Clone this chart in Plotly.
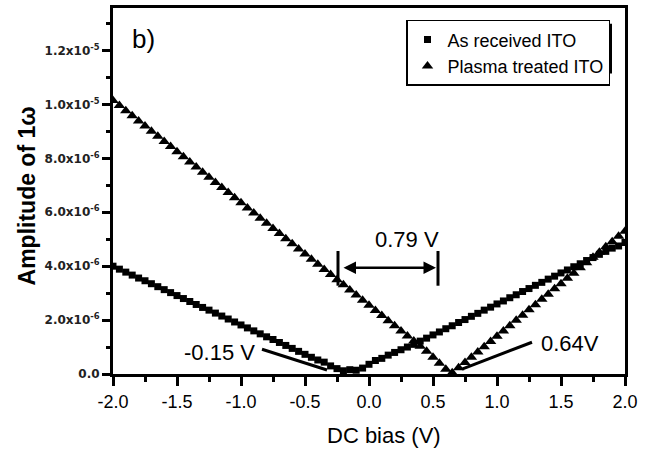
import plotly.graph_objects as go

# DC bias (V)
bias = [-2.00, -1.95, -1.90, -1.85, -1.80, -1.75, -1.70, -1.65, -1.60, -1.55,
        -1.50, -1.45, -1.40, -1.35, -1.30, -1.25, -1.20, -1.15, -1.10, -1.05,
        -1.00, -0.95, -0.90, -0.85, -0.80, -0.75, -0.70, -0.65, -0.60, -0.55,
        -0.50, -0.45, -0.40, -0.35, -0.30, -0.25, -0.20, -0.15, -0.10, -0.05,
        0.00, 0.05, 0.10, 0.15, 0.20, 0.25, 0.30, 0.35, 0.40, 0.45,
        0.50, 0.55, 0.60, 0.65, 0.70, 0.75, 0.80, 0.85, 0.90, 0.95,
        1.00, 1.05, 1.10, 1.15, 1.20, 1.25, 1.30, 1.35, 1.40, 1.45,
        1.50, 1.55, 1.60, 1.65, 1.70, 1.75, 1.80, 1.85, 1.90, 1.95, 2.00]

# Amplitude of 1w, in units of 1e-6
as_received = [4.00, 3.89, 3.78, 3.67, 3.56, 3.46, 3.35, 3.24, 3.13, 3.02,
               2.91, 2.80, 2.69, 2.58, 2.47, 2.37, 2.26, 2.15, 2.04, 1.93,
               1.82, 1.71, 1.60, 1.49, 1.38, 1.28, 1.17, 1.06, 0.95, 0.84,
               0.73, 0.62, 0.52, 0.44, 0.30, 0.20, 0.12, 0.16, 0.14, 0.22,
               0.36, 0.50, 0.58, 0.70, 0.80, 0.90, 1.00, 1.10, 1.22, 1.33,
               1.45, 1.56, 1.68, 1.79, 1.91, 2.02, 2.14, 2.25, 2.37, 2.48,
               2.60, 2.71, 2.83, 2.94, 3.06, 3.17, 3.29, 3.40, 3.52, 3.63,
               3.75, 3.86, 3.98, 4.09, 4.21, 4.32, 4.44, 4.55, 4.67, 4.75, 4.88]

plasma = [10.15, 9.96, 9.77, 9.58, 9.39, 9.20, 9.01, 8.82, 8.63, 8.44,
          8.25, 8.06, 7.87, 7.68, 7.49, 7.30, 7.11, 6.92, 6.73, 6.54,
          6.35, 6.16, 5.97, 5.78, 5.59, 5.40, 5.21, 5.02, 4.83, 4.64,
          4.45, 4.26, 4.07, 3.88, 3.69, 3.50, 3.31, 3.12, 2.93, 2.74,
          2.55, 2.36, 2.17, 1.98, 1.79, 1.60, 1.41, 1.22, 1.03, 0.84,
          0.62, 0.40, 0.18, 0.05, 0.23, 0.43, 0.62, 0.82, 1.01, 1.21,
          1.40, 1.60, 1.79, 1.99, 2.18, 2.38, 2.57, 2.77, 2.96, 3.16,
          3.35, 3.55, 3.74, 3.94, 4.13, 4.33, 4.52, 4.72, 4.91, 5.11, 5.30]

series_names = ["As received ITO", "Plasma treated ITO"]

x_ticks = [-2.0, -1.5, -1.0, -0.5, 0.0, 0.5, 1.0, 1.5, 2.0]
y_tickvals = [0.0, 2e-6, 4e-6, 6e-6, 8e-6, 1.0e-5, 1.2e-5]
y_ticktext = ["0.0", "2.0x10<sup>-6</sup>", "4.0x10<sup>-6</sup>", "6.0x10<sup>-6</sup>",
              "8.0x10<sup>-6</sup>", "1.0x10<sup>-5</sup>", "1.2x10<sup>-5</sup>"]

SCALE = 1e-6
Y_TOP = 13.58e-6

W, H = 656, 452
L, R, T, B = 113, 31, 5, 78
PW, PH = W - L - R, H - T - B


def px_x(p):
    return -2.0 + (p - L) / PW * 4.0


def px_y(p):
    return (T + PH - p) / PH * Y_TOP


def paper_x(p):
    return (p - L) / PW


def paper_y(p):
    return (T + PH - p) / PH


FONT = "Liberation Sans, Arial, sans-serif"

fig = go.Figure()
fig.add_trace(go.Scatter(
    x=bias, y=[v * SCALE for v in as_received], mode="markers", name=series_names[0],
    marker=dict(symbol="square", size=7, color="black", line=dict(width=0))))
fig.add_trace(go.Scatter(
    x=bias, y=[v * SCALE for v in plasma], mode="markers", name=series_names[1],
    marker=dict(symbol="triangle-up", size=10, color="black", line=dict(width=0))))

fig.update_layout(
    width=W, height=H, margin=dict(l=L, r=R, t=T, b=B),
    plot_bgcolor="white", paper_bgcolor="white",
    font=dict(family=FONT, color="black"),
    legend=dict(x=paper_x(406), y=paper_y(17), xanchor="left", yanchor="top",
                bgcolor="white", bordercolor="black", borderwidth=1.5,
                font=dict(size=18, family=FONT), tracegroupgap=0,
                itemwidth=30),
    xaxis=dict(range=[-2.0, 2.0], tickvals=x_ticks, ticktext=[f"{v:.1f}" for v in x_ticks],
               ticks="outside", ticklen=9, tickwidth=2.5, tickcolor="black",
               minor=dict(dtick=0.25, ticks="outside", ticklen=5, tickwidth=2.5, tickcolor="black"),
               showline=True, linewidth=3, linecolor="black", mirror=True,
               showgrid=False, zeroline=False,
               tickfont=dict(size=18, family=FONT)),
    yaxis=dict(range=[0, Y_TOP], tickvals=y_tickvals, ticktext=y_ticktext,
               ticks="outside", ticklen=8, tickwidth=2.5, tickcolor="black",
               minor=dict(dtick=1e-6, ticks="outside", ticklen=4, tickwidth=2.5, tickcolor="black"),
               showline=True, linewidth=3, linecolor="black", mirror=True,
               showgrid=False, zeroline=False,
               tickfont=dict(size=12, family="DejaVu Sans", weight="bold", color="#222")),
)

# legend shadow
fig.add_shape(type="rect", xref="paper", yref="paper",
              x0=paper_x(410), x1=paper_x(612), y0=paper_y(71), y1=paper_y(21),
              fillcolor="black", line=dict(width=0), layer="above")

# axis titles
fig.add_annotation(text="DC bias (V)", xref="paper", yref="paper",
                   x=paper_x(384), y=paper_y(436), showarrow=False,
                   font=dict(size=22, family=FONT), xanchor="center", yanchor="middle")
fig.add_annotation(text="Amplitude of 1ω", xref="paper", yref="paper",
                   x=paper_x(27), y=paper_y(195), showarrow=False, textangle=-90,
                   font=dict(size=23, family=FONT, weight="bold"),
                   xanchor="center", yanchor="middle")

# panel label
fig.add_annotation(text="b)", xref="paper", yref="paper", x=paper_x(143), y=paper_y(36),
                   showarrow=False, font=dict(size=26, family=FONT),
                   xanchor="center", yanchor="middle")

# 0.79 V gap marker
fig.add_annotation(text="0.79 V", x=px_x(407), y=px_y(238), showarrow=False,
                   font=dict(size=22, family=FONT), xanchor="center", yanchor="middle")
fig.add_annotation(text="", x=px_x(436), y=px_y(267), ax=px_x(342), ay=px_y(267),
                   axref="x", ayref="y", showarrow=True, arrowhead=2, arrowside="end+start",
                   arrowsize=1, arrowwidth=2.5, arrowcolor="black")
for xp in (338, 438):
    fig.add_shape(type="line", x0=px_x(xp), x1=px_x(xp), y0=px_y(250), y1=px_y(285),
                  line=dict(color="black", width=3))

# -0.15 V label
fig.add_annotation(text="-0.15 V", x=px_x(219), y=px_y(352), showarrow=False,
                   font=dict(size=22, family=FONT), xanchor="center", yanchor="middle")
fig.add_shape(type="line", x0=px_x(262), y0=px_y(349), x1=px_x(327), y1=px_y(370),
              line=dict(color="black", width=3))

# 0.64V label
fig.add_annotation(text="0.64V", x=px_x(570), y=px_y(343), showarrow=False,
                   font=dict(size=22, family=FONT), xanchor="center", yanchor="middle")
fig.add_shape(type="line", x0=px_x(532), y0=px_y(342), x1=px_x(462), y1=px_y(369),
              line=dict(color="black", width=3))

fig.write_html("out.html")
